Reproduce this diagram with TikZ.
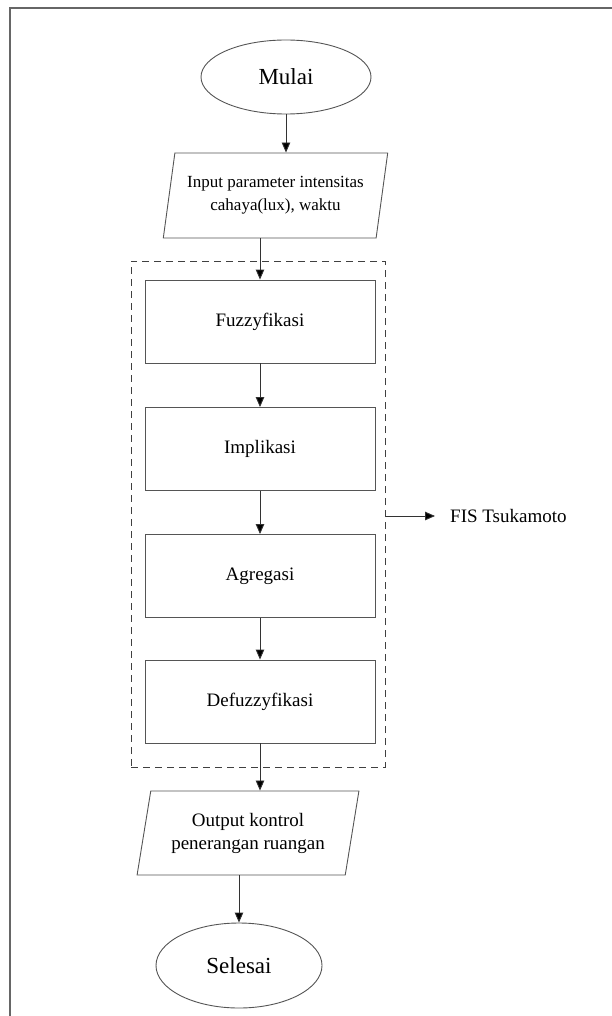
\documentclass[tikz,border=0pt]{standalone}
\usepackage{fontspec}
\setmainfont{Liberation Serif}
\usetikzlibrary{shapes.geometric,arrows.meta}
\definecolor{edge}{HTML}{555555}
\definecolor{wire}{HTML}{333333}
\tikzset{
  startend/.style={ellipse,draw=edge,line width=0.9pt,minimum width=170pt,minimum height=74pt,font=\fontsize{23}{27}\selectfont,inner sep=0pt},
  iobox/.style={trapezium,trapezium left angle=75,trapezium right angle=105,trapezium stretches=true,draw=edge,line width=0.9pt,minimum width=225pt,minimum height=85pt,align=center,inner sep=0pt},
  procbox/.style={rectangle,draw=edge,line width=0.9pt,minimum width=230pt,minimum height=83pt,font=\fontsize{19}{23}\selectfont},
  arr/.style={draw=wire,line width=0.9pt,-{Triangle[length=10pt,width=8.5pt,fill=black]}},
  groupbox/.style={draw=black!75,line width=1pt,dash pattern=on 7pt off 5pt,minimum width=254pt,minimum height=506pt}
}
\begin{document}
\begin{tikzpicture}[x=1pt,y=-1pt]
\useasboundingbox (0,0) rectangle (612,1016);
\draw[draw=edge!90,line width=1.2pt] (10,1016) -- (10,8) -- (612,8);
\node[startend] (mulai) at (286,77) {Mulai};
\node[iobox,font=\fontsize{17}{23}\selectfont] (input) at (275.5,195.5) {Input parameter intensitas\\cahaya(lux), waktu};
\node[groupbox] (fis) at (258,514) {};
\node[procbox] (fuzz) at (260,321.5) {Fuzzyfikasi};
\node[procbox] (impl) at (260,449) {Implikasi};
\node[procbox] (agre) at (260,576) {Agregasi};
\node[procbox] (defuzz) at (260,701.5) {Defuzzyfikasi};
\node[anchor=west,inner sep=0pt,font=\fontsize{19}{23}\selectfont] (fislabel) at (450,516) {FIS Tsukamoto};
\node[iobox,minimum width=222pt,minimum height=84pt,font=\fontsize{19}{23}\selectfont] (output) at (248,833) {Output kontrol\\penerangan ruangan};
\node[startend,minimum width=166pt,minimum height=85pt] (selesai) at (239,965.5) {Selesai};
\draw[arr] (mulai.south) -- (mulai.south |- input.north);
\draw[arr] (fuzz.north |- input.south) -- (fuzz.north);
\draw[arr] (fuzz.south) -- (impl.north);
\draw[arr] (impl.south) -- (agre.north);
\draw[arr] (agre.south) -- (defuzz.north);
\draw[arr] (defuzz.south) -- (defuzz.south |- output.north);
\draw[arr] (selesai.north |- output.south) -- (selesai.north);
\draw[arr,shorten >=15pt] (fis.east |- fislabel.west) -- (fislabel.west);
\end{tikzpicture}
\end{document}
